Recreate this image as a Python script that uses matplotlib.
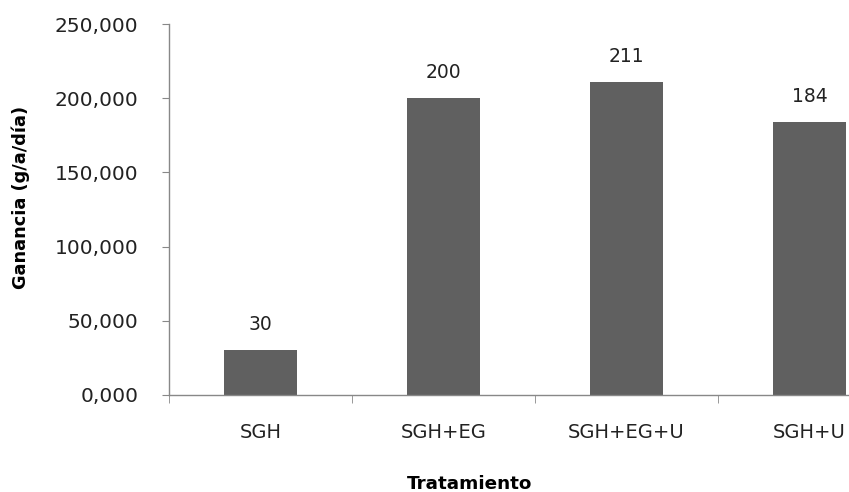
import matplotlib.pyplot as plt
import numpy as np

plt.rcParams['font.family'] = ['DejaVu Sans']

tratamientos = ['SGH', 'SGH+EG', 'SGH+EG+U', 'SGH+U']
ganancia = [30, 200, 211, 184]
yticks = [0, 50, 100, 150, 200, 250]

fig = plt.figure(figsize=(8.49, 4.92), dpi=100)
# el eje se sale por la derecha como en el original
ax = fig.add_axes([169 / 849, 1 - 395 / 492, 732 / 849, 371 / 492])

x = np.arange(len(tratamientos))
bars = ax.bar(x, ganancia, width=0.4, color='#606060', zorder=2)
for b, v in zip(bars, ganancia):
    ax.text(b.get_x() + b.get_width() / 2, v + 11, str(v),
            ha='center', va='bottom', fontsize=13.5, color='#222222')

ax.set_xlim(-0.5, len(tratamientos) - 0.5)
ax.set_ylim(0, 250)
ax.set_yticks(yticks)
ax.set_yticklabels([f'{v:.3f}'.replace('.', ',') for v in yticks],
                   fontsize=14.5, color='#222222')
ax.set_xticks(x)
ax.set_xticklabels(tratamientos, fontsize=14, color='#222222')
ax.set_xticks(np.arange(-0.5, len(tratamientos)), minor=True)
ax.tick_params(axis='x', which='major', length=0, pad=20)
ax.tick_params(axis='x', which='minor', length=6, color='#888888', direction='out')
ax.tick_params(axis='y', length=5, color='#888888', direction='out', pad=17)

for s in ['top', 'right']:
    ax.spines[s].set_visible(False)
for s in ['left', 'bottom']:
    ax.spines[s].set_color('#888888')
    ax.spines[s].set_linewidth(1)

fig.text(21 / 849, 1 - 197 / 492, 'Ganancia (g/a/día)', rotation=90,
         ha='center', va='center', fontsize=12.8, fontweight='bold')
fig.text(470 / 849, 1 - 484 / 492, 'Tratamiento', ha='center', va='center',
         fontsize=13.2, fontweight='bold')

fig.savefig('out.png', dpi=100)
